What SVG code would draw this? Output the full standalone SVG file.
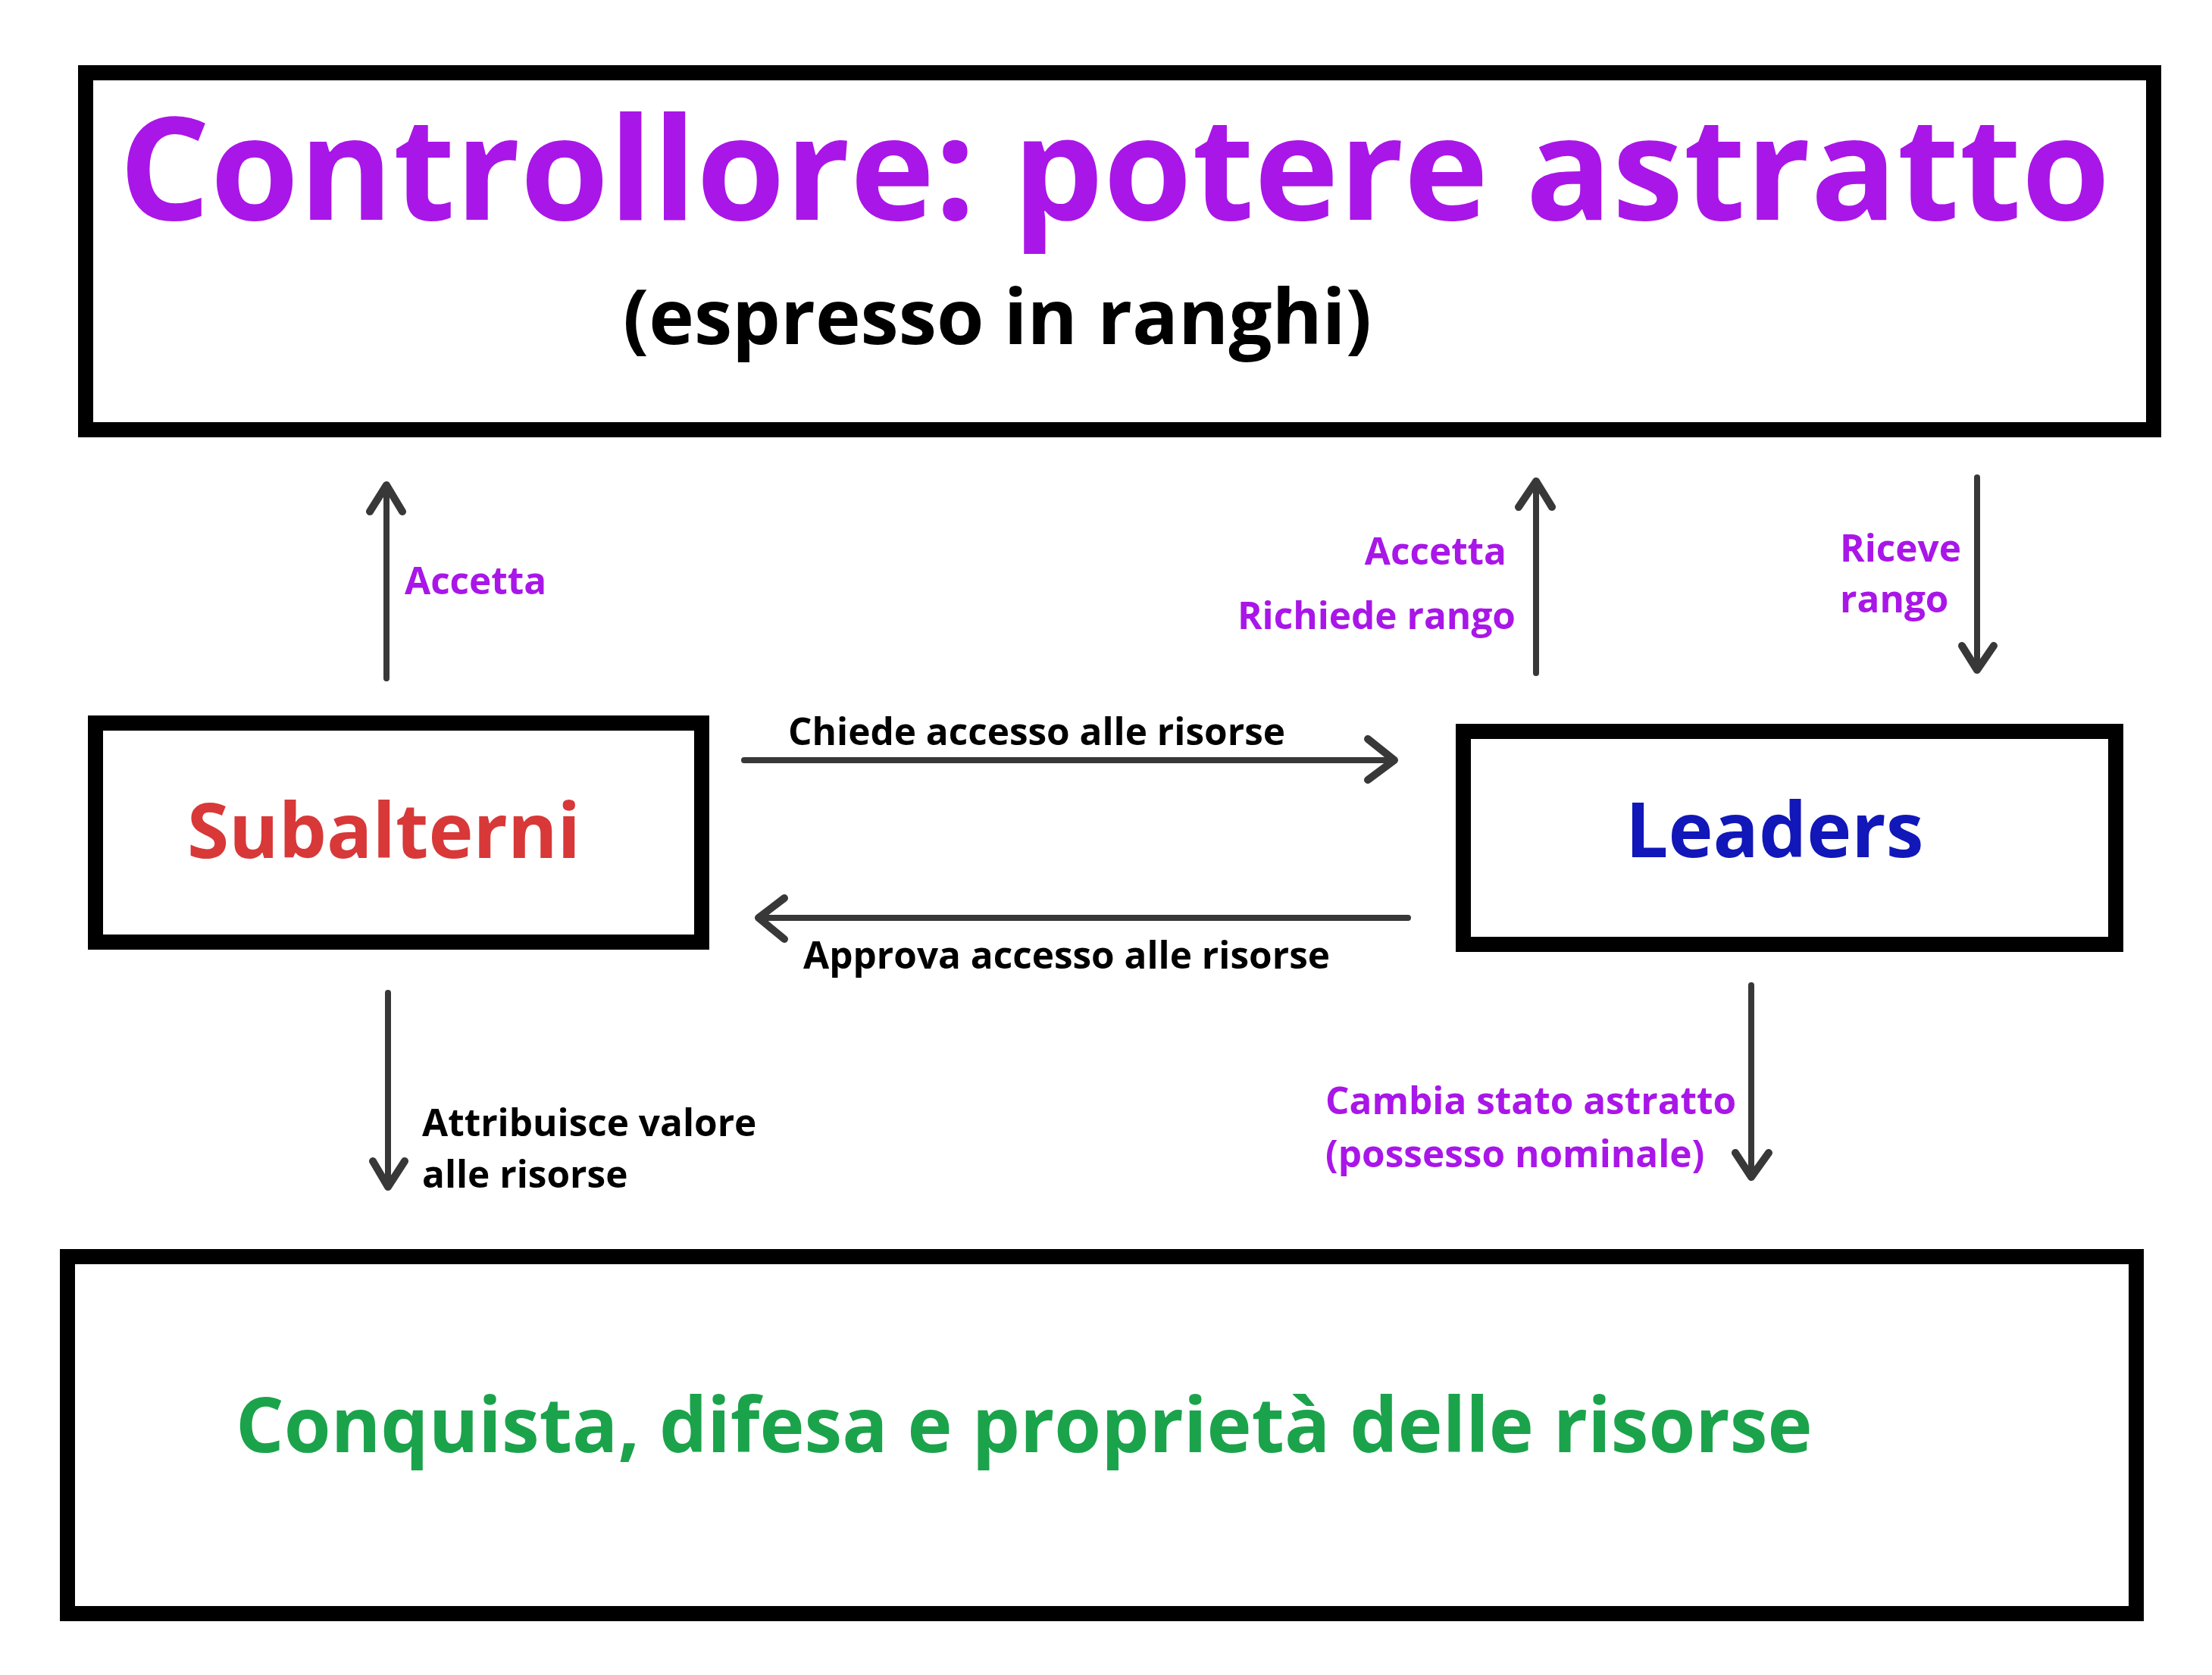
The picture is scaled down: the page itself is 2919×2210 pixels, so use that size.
<svg xmlns="http://www.w3.org/2000/svg" width="2919" height="2210" viewBox="0 0 2919 2210">
<style>
.box{fill:#fff;stroke:#000;stroke-width:20}
text{font-family:"Open Sans","Noto Sans","DejaVu Sans",sans-serif;font-weight:700}
.lbl{font-size:49.5px}
.pur{fill:#A916E8}
.blk{fill:#000}
.shaft{stroke:#383838;stroke-width:8;stroke-linecap:round;fill:none}
.head{stroke:#383838;stroke-width:10;stroke-linecap:round;stroke-linejoin:round;fill:none}
</style>
<rect width="2919" height="2210" fill="#fff"/>
<g id="controllore">
<rect class="box" x="113" y="96" width="2729" height="471"/>
<text x="157" y="290" font-size="189" fill="#A916E8">Controllore: potere astratto</text>
<text x="822" y="454" font-size="101" fill="#000">(espresso in ranghi)</text>
</g>
<g id="subalterni">
<rect class="box" x="126" y="954" width="800" height="289"/>
<text x="247" y="1132" font-size="100" fill="#D83838">Subalterni</text>
</g>
<g id="leaders">
<rect class="box" x="1931" y="965" width="861" height="281"/>
<text x="2145" y="1131" font-size="100" fill="#1117B8">Leaders</text>
</g>
<g id="risorse">
<rect class="box" x="89" y="1658" width="2730" height="471"/>
<text x="311" y="1916" font-size="100" fill="#1BA34B">Conquista, difesa e proprietà delle risorse</text>
</g>
<g id="connectors">
<path class="shaft" d="M510 895V642"/>
<path class="head" d="M488 675L510 640L531 675"/>
<path class="shaft" d="M982 1003H1838"/>
<path class="head" d="M1805 975L1840 1003L1805 1029"/>
<path class="shaft" d="M1858 1211H1003"/>
<path class="head" d="M1035 1185L1001 1211L1035 1239"/>
<path class="shaft" d="M512 1310V1564"/>
<path class="head" d="M492 1532L512 1566L534 1532"/>
<path class="shaft" d="M2027 888V637"/>
<path class="head" d="M2004 669L2027 635L2048 669"/>
<path class="shaft" d="M2609 630V882"/>
<path class="head" d="M2589 852L2609 884L2631 852"/>
<path class="shaft" d="M2311 1300V1551"/>
<path class="head" d="M2290 1521L2311 1553L2334 1521"/>
</g>
<g id="labels">
<text class="lbl pur" x="534" y="784">Accetta</text>
<text class="lbl pur" x="1988" y="745" text-anchor="end">Accetta</text>
<text class="lbl pur" x="2000" y="830" text-anchor="end">Richiede rango</text>
<text class="lbl pur" x="2428" y="741">Riceve</text>
<text class="lbl pur" x="2428" y="808">rango</text>
<text class="lbl blk" x="1040" y="983">Chiede accesso alle risorse</text>
<text class="lbl blk" x="1060" y="1278">Approva accesso alle risorse</text>
<text class="lbl blk" x="557" y="1499">Attribuisce valore</text>
<text class="lbl blk" x="557" y="1567">alle risorse</text>
<text class="lbl pur" x="1749" y="1470">Cambia stato astratto</text>
<text class="lbl pur" x="1749" y="1540">(possesso nominale)</text>
</g>
</svg>
